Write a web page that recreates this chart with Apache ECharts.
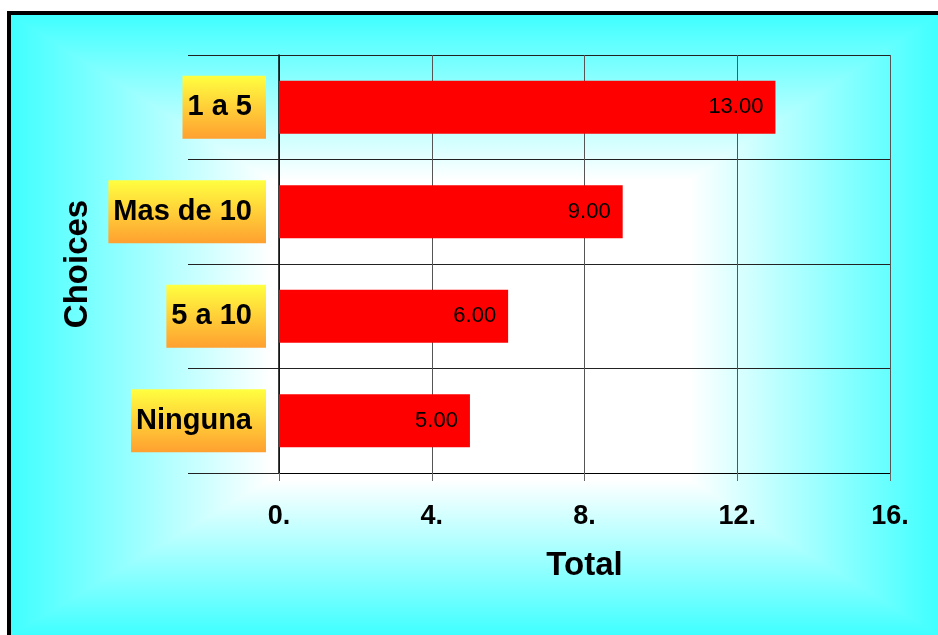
<!DOCTYPE html>
<html>
<head>
<meta charset="utf-8">
<script src="https://cdn.jsdelivr.net/npm/echarts@6/dist/echarts.min.js"></script>
<style>
html,body{margin:0;padding:0;background:#fff;}
#chart{width:938px;height:635px;}
</style>
</head>
<body>
<div id="chart"></div>
<script>
const categories = ['1 a 5', 'Mas de 10', '5 a 10', 'Ninguna'];
const totals = [13, 9, 6, 5];
const xTicks = [0, 4, 8, 12, 16];

const FONT = '"Liberation Sans", Arial, sans-serif';
const CYAN = '#40ffff';
const O = {x1: 11, y1: 15, x2: 938, y2: 635};
const I = {x1: 270, y1: 180, x2: 690, y2: 480};

function lin(x, y, x2, y2) {
  return {type: 'linear', x: x, y: y, x2: x2, y2: y2, global: true,
    colorStops: [{offset: 0, color: CYAN}, {offset: 1, color: '#ffffff'}]};
}
function poly(points, g) {
  return {type: 'polygon', z: -20, silent: true, shape: {points: points},
    style: {fill: g, stroke: g, lineWidth: 1.5}};
}

const chart = echarts.init(document.getElementById('chart'), null, {renderer: 'canvas'});
chart.setOption({
  backgroundColor: '#ffffff',
  animation: false,
  textStyle: {fontFamily: FONT},
  graphic: [
    {type: 'rect', z: -21, silent: true, shape: {x: O.x1, y: O.y1, width: O.x2 - O.x1, height: O.y2 - O.y1}, style: {fill: '#a0ffff'}},
    {type: 'rect', z: -20, silent: true, shape: {x: I.x1, y: I.y1, width: I.x2 - I.x1, height: I.y2 - I.y1}, style: {fill: '#ffffff', stroke: '#ffffff', lineWidth: 1.5}},
    poly([[O.x1, O.y1], [O.x2, O.y1], [I.x2, I.y1], [I.x1, I.y1]], lin(0, O.y1, 0, I.y1)),
    poly([[O.x1, O.y1], [I.x1, I.y1], [I.x1, I.y2], [O.x1, O.y2]], lin(O.x1, 0, I.x1, 0)),
    poly([[O.x2, O.y1], [O.x2, O.y2], [I.x2, I.y2], [I.x2, I.y1]], lin(O.x2, 0, I.x2, 0)),
    poly([[O.x1, O.y2], [I.x1, I.y2], [I.x2, I.y2], [O.x2, O.y2]], lin(0, O.y2, 0, I.y2)),
    {type: 'rect', z: 10, silent: true, shape: {x: 7, y: 11, width: 931, height: 4}, style: {fill: '#000'}},
    {type: 'rect', z: 10, silent: true, shape: {x: 7, y: 11, width: 4, height: 624}, style: {fill: '#000'}}
  ],
  grid: {left: 279, right: 48, top: 55, bottom: 162, containLabel: false},
  xAxis: {
    type: 'value',
    min: xTicks[0], max: xTicks[xTicks.length - 1], interval: 4,
    name: 'Total',
    nameLocation: 'middle',
    nameGap: 76,
    nameTextStyle: {fontSize: 33, fontWeight: 'bold', color: '#000', fontFamily: FONT},
    axisLine: {show: true, lineStyle: {color: '#000', width: 1}},
    axisTick: {show: true, length: 8, lineStyle: {color: '#666'}},
    axisLabel: {margin: 30, fontSize: 27, fontWeight: 'bold', color: '#000', fontFamily: FONT,
      formatter: v => v + '.'},
    splitLine: {show: true, lineStyle: {color: '#555', width: 1}}
  },
  yAxis: {
    type: 'category',
    inverse: true,
    data: categories,
    name: 'Choices',
    nameLocation: 'middle',
    nameGap: 185,
    nameTextStyle: {fontSize: 33, fontWeight: 'bold', color: '#000', fontFamily: FONT},
    axisLine: {show: true, lineStyle: {color: '#000', width: 1.5}},
    axisTick: {show: true, length: 91, lineStyle: {color: '#222'}},
    axisLabel: {
      margin: 13, fontSize: 29, fontWeight: 'bold', color: '#000', fontFamily: FONT,
      lineHeight: 63, padding: [0, 14, 0, 5],
      backgroundColor: {type: 'linear', x: 0, y: 0, x2: 0, y2: 1,
        colorStops: [{offset: 0, color: '#ffff40'}, {offset: 1, color: '#ffa030'}]}
    },
    splitLine: {show: true, lineStyle: {color: '#222', width: 1}}
  },
  series: [{
    type: 'bar',
    data: totals,
    barWidth: 53,
    itemStyle: {color: '#ff0000'},
    label: {show: true, position: 'insideRight', distance: 12, fontSize: 22, color: '#000', fontFamily: FONT,
      formatter: p => p.value.toFixed(2)}
  }]
});
</script>
</body>
</html>
